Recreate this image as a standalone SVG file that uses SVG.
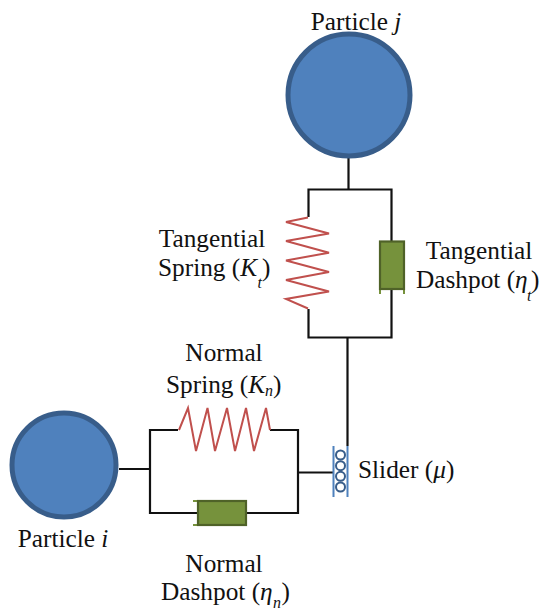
<svg xmlns="http://www.w3.org/2000/svg" width="540" height="611" viewBox="0 0 540 611">
<style>
text{font-family:"Liberation Serif","Times New Roman",serif;font-size:25.3px;fill:#111}
.m{text-anchor:middle}
.i{font-style:italic}
.s{font-size:16px;font-style:italic}
.wire{fill:none;stroke:#111;stroke-width:2.2}
.spring{fill:none;stroke:#c0504d;stroke-width:2}
.ball{fill:#4f81bd;stroke:#385d8a;stroke-width:5}
.pot{fill:#76923c;stroke:#4f6228;stroke-width:2.2}
.lug{fill:none;stroke:#76923c;stroke-width:2}
.rail{stroke:#4f81bd;stroke-width:2;fill:none}
.coil{fill:#fff;stroke:#385d8a;stroke-width:2}
</style>
<g id="connectors">
<path class="wire" d="M348.5 157V189.5M308.5 217V189.5H391.5V241M391.5 289V337.5H308.5V309M347.5 337.5V446"/>
<path class="wire" d="M119 469H150M178 430H150V513H198M247 513H298V430H270M298 472.5H333"/>
</g>
<g id="particle-j"><circle class="ball" cx="349" cy="95" r="61"/><text x="356" y="30" class="m">Particle <tspan class="i">j</tspan></text></g>
<g id="particle-i"><circle class="ball" cx="64" cy="465" r="52"/><text x="63" y="547" class="m">Particle <tspan class="i">i</tspan></text></g>
<g id="tangential-spring"><path class="spring" d="M308 217.5L286 222L329 233.5L286 241L329 252.7L286 260.5L329 272L286 280L329 291.5L286 299L308 308.5"/>
<text x="212" y="247" class="m">Tangential</text><text x="158" y="276">Spring (<tspan class="i">K</tspan></text><text x="257.5" y="288" class="s">t</text><text x="262" y="276">)</text></g>
<g id="tangential-dashpot"><path class="lug" d="M380 284V294M404 284V294"/><rect class="pot" x="380" y="241.5" width="24" height="47.5"/>
<text x="479" y="259" class="m">Tangential</text><text x="416" y="288">Dashpot (<tspan class="i">η</tspan></text><text x="527" y="301" class="s">t</text><text x="531" y="288">)</text></g>
<g id="normal-spring"><path class="spring" d="M179 430L188 408L196 451L207.5 408L215 451L227 408L235 451L246 408L254 451L266 408L270 430"/>
<text x="224" y="361" class="m">Normal</text><text x="166" y="393">Spring (<tspan class="i">K</tspan><tspan class="s" dy="3">n</tspan><tspan dy="-3">)</tspan></text></g>
<g id="normal-dashpot"><path class="lug" d="M193 501H203M193 525H203"/><rect class="pot" x="198" y="501" width="48" height="24"/>
<text x="224" y="572" class="m">Normal</text><text x="161" y="600">Dashpot (<tspan class="i">η</tspan></text><text x="273" y="608" class="s">n</text><text x="281.5" y="600">)</text></g>
<g id="slider"><path class="rail" d="M333.5 446V497M347.5 446V497"/><circle class="coil" cx="340.5" cy="455" r="4.5"/><circle class="coil" cx="340.5" cy="465.7" r="4.5"/><circle class="coil" cx="340.5" cy="476.3" r="4.5"/><circle class="coil" cx="340.5" cy="487" r="4.5"/>
<text x="358" y="478">Slider (<tspan class="i">μ</tspan>)</text></g>
</svg>
